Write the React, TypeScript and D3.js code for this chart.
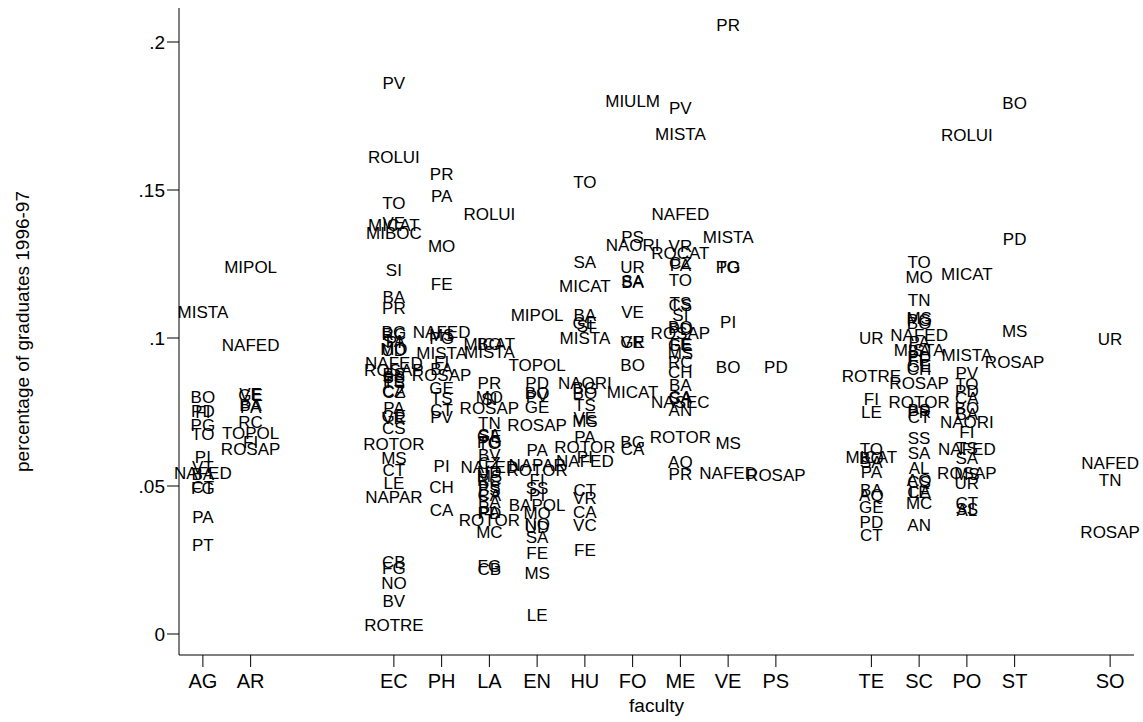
import React from "react";
import * as d3 from "d3";

// Faculty codes on the x axis (gaps separate the faculty groups)
const faculties = ["AG", "AR", "EC", "PH", "LA", "EN", "HU", "FO", "ME", "VE", "PS", "TE", "SC", "PO", "ST", "SO"];
const facultyCodes = [1, 2, 5, 6, 7, 8, 9, 10, 11, 12, 13, 15, 16, 17, 18, 20];

// Y axis ticks
const yTicks = [0, 0.05, 0.1, 0.15, 0.2];
const yTickLabels = ["0", ".05", ".1", ".15", ".2"];

// Percentage of graduates 1996-97, per university, within each faculty
const AG: [string, number][] = [
  ["MISTA", 0.1087], ["BO", 0.0802], ["PD", 0.0753], ["FI", 0.0749], ["PG", 0.0705],
  ["TO", 0.0675], ["PI", 0.0599], ["VT", 0.0565], ["NAFED", 0.0543], ["BA", 0.0540],
  ["CT", 0.0496], ["FG", 0.0493], ["PA", 0.0396], ["PT", 0.0301],
];
const AR: [string, number][] = [
  ["MIPOL", 0.1241], ["NAFED", 0.0976], ["VE", 0.0812], ["GE", 0.0807], ["PA", 0.0768],
  ["BA", 0.0772], ["RC", 0.0717], ["TOPOL", 0.0678], ["FI", 0.065], ["ROSAP", 0.0624],
];
const EC: [string, number][] = [
  ["PV", 0.186], ["ROLUI", 0.161], ["TO", 0.1457], ["VE", 0.1388], ["MICAT", 0.1382],
  ["MIBOC", 0.1356], ["SI", 0.123], ["BA", 0.1138], ["PR", 0.11], ["BG", 0.102],
  ["RC", 0.1012], ["SA", 0.099], ["PI", 0.0988], ["MO", 0.0962], ["UD", 0.0958],
  ["NAFED", 0.0914], ["ROSAP", 0.0892], ["BS", 0.0878], ["SS", 0.0868], ["FE", 0.0858],
  ["TS", 0.085], ["CA", 0.082], ["CZ", 0.0818], ["PA", 0.0762], ["GE", 0.0735],
  ["VR", 0.0728], ["CS", 0.0695], ["ROTOR", 0.0642], ["MS", 0.0594], ["CT", 0.0554],
  ["LE", 0.0509], ["NAPAR", 0.0464], ["CB", 0.0244], ["FG", 0.0222], ["NO", 0.0171],
  ["BV", 0.0113], ["ROTRE", 0.003],
];
const PH: [string, number][] = [
  ["PR", 0.1553], ["PA", 0.148], ["MO", 0.1311], ["FE", 0.1182], ["NAFED", 0.1021],
  ["MS", 0.101], ["PG", 0.1], ["MISTA", 0.0948], ["FI", 0.092], ["BA", 0.0895],
  ["ROSAP", 0.0875], ["GE", 0.083], ["TS", 0.0796], ["CT", 0.0755], ["PV", 0.0732],
  ["PI", 0.0569], ["CH", 0.0498], ["CA", 0.0419],
];
const LA: [string, number][] = [
  ["ROLUI", 0.1419], ["MICAT", 0.0978], ["BO", 0.098], ["MISTA", 0.0954], ["PR", 0.0847],
  ["MO", 0.0802], ["SI", 0.0795], ["ROSAP", 0.0762], ["TN", 0.0712], ["SA", 0.0672],
  ["GE", 0.0668], ["PG", 0.065], ["TO", 0.0645], ["BV", 0.0605], ["CZ", 0.0578],
  ["NAFED", 0.0565], ["UD", 0.0548], ["MS", 0.0532], ["RC", 0.052], ["PS", 0.0495],
  ["BS", 0.0488], ["CA", 0.047], ["BA", 0.0445], ["PA", 0.0412], ["PD", 0.0408],
  ["ROTOR", 0.0385], ["MC", 0.0344], ["FG", 0.0228], ["CB", 0.022],
];
const EN: [string, number][] = [
  ["MIPOL", 0.1078], ["TOPOL", 0.0909], ["PD", 0.0847], ["BO", 0.0815], ["PV", 0.0805],
  ["GE", 0.0766], ["ROSAP", 0.0706], ["PA", 0.0622], ["NAPAR", 0.0571], ["ROTOR", 0.0553],
  ["FI", 0.052], ["SS", 0.0492], ["PI", 0.047], ["BAPOL", 0.0436], ["MO", 0.0408],
  ["NO", 0.0372], ["UD", 0.0362], ["SA", 0.0329], ["FE", 0.0273], ["MS", 0.0205],
  ["LE", 0.0064],
];
const HU: [string, number][] = [
  ["TO", 0.1528], ["SA", 0.1258], ["MICAT", 0.1177], ["BA", 0.1078], ["GE", 0.105],
  ["SI", 0.104], ["MISTA", 0.0999], ["NAORI", 0.0847], ["BG", 0.083], ["BO", 0.0813],
  ["TS", 0.0774], ["VE", 0.0728], ["MS", 0.072], ["PA", 0.0667], ["ROTOR", 0.0633],
  ["PI", 0.0598], ["NAFED", 0.0585], ["CT", 0.0486], ["VR", 0.0458], ["CA", 0.0413],
  ["VC", 0.0368], ["FE", 0.0284],
];
const FO: [string, number][] = [
  ["MIULM", 0.1802], ["PS", 0.134], ["NAORI", 0.1314], ["UR", 0.1241], ["SA", 0.1193],
  ["BA", 0.119], ["VE", 0.1089], ["VR", 0.0988], ["GE", 0.0985], ["BO", 0.0909],
  ["MICAT", 0.0818], ["BG", 0.065], ["CA", 0.0624],
];
const ME: [string, number][] = [
  ["PV", 0.1776], ["MISTA", 0.1689], ["NAFED", 0.1419], ["VR", 0.1312], ["ROCAT", 0.1288],
  ["CZ", 0.1252], ["PA", 0.1247], ["TO", 0.1196], ["TS", 0.1117], ["CS", 0.1112],
  ["SI", 0.1078], ["BO", 0.1038], ["PD", 0.103], ["ROSAP", 0.1016], ["FE", 0.098],
  ["GE", 0.0976], ["MS", 0.0948], ["RC", 0.092], ["CH", 0.0886], ["BA", 0.0841],
  ["CA", 0.0802], ["SA", 0.0798], ["NASEC", 0.0782], ["AN", 0.0755], ["ROTOR", 0.0667],
  ["AQ", 0.0582], ["PR", 0.0541],
];
const VE: [string, number][] = [
  ["PR", 0.2057], ["MISTA", 0.134], ["TO", 0.1241], ["PG", 0.1241], ["PI", 0.1055],
  ["BO", 0.0903], ["MS", 0.0644], ["NAFED", 0.0543],
];
const PS: [string, number][] = [["PD", 0.0903], ["ROSAP", 0.0537]];
const TE: [string, number][] = [
  ["UR", 0.0999], ["ROTRE", 0.0872], ["FI", 0.0794], ["LE", 0.0751], ["TO", 0.0625],
  ["MICAT", 0.0599], ["BO", 0.0595], ["SA", 0.0582], ["PA", 0.0548], ["BA", 0.0486],
  ["AQ", 0.047], ["GE", 0.0428], ["PD", 0.0379], ["CT", 0.0334],
];
const SC: [string, number][] = [
  ["TO", 0.1258], ["MO", 0.1207], ["TN", 0.1128], ["MS", 0.1066], ["PG", 0.106],
  ["BO", 0.1052], ["NAFED", 0.101], ["PA", 0.0988], ["MISTA", 0.0959], ["BA", 0.0955],
  ["PD", 0.0935], ["FE", 0.0925], ["GE", 0.0905], ["CH", 0.0895], ["ROSAP", 0.0849],
  ["ROTOR", 0.0783], ["BS", 0.0755], ["PR", 0.075], ["CT", 0.0732], ["SS", 0.0663],
  ["SA", 0.0613], ["AL", 0.056], ["AQ", 0.052], ["CS", 0.0515], ["CA", 0.0481],
  ["LE", 0.0478], ["MC", 0.0442], ["AN", 0.0368],
];
const PO: [string, number][] = [
  ["ROLUI", 0.1686], ["MICAT", 0.1216], ["MISTA", 0.0943], ["PV", 0.0881], ["TO", 0.0845],
  ["PD", 0.0822], ["CA", 0.0796], ["BO", 0.0762], ["BA", 0.0742], ["NAORI", 0.0717],
  ["FI", 0.0683], ["NAFED", 0.0624], ["TS", 0.0628], ["SA", 0.0594], ["ROSAP", 0.0543],
  ["MS", 0.054], ["UR", 0.0509], ["CT", 0.0442], ["SS", 0.0422], ["AL", 0.0418],
];
const ST: [string, number][] = [["BO", 0.1793], ["PD", 0.1333], ["MS", 0.1025], ["ROSAP", 0.092]];
const SO: [string, number][] = [["UR", 0.0996], ["NAFED", 0.0577], ["TN", 0.052], ["ROSAP", 0.0346]];

const byFaculty: Record<string, [string, number][]> = {
  AG, AR, EC, PH, LA, EN, HU, FO, ME, VE, PS, TE, SC, PO, ST, SO,
};

const W = 1143;
const H = 722;
const plotLeft = 179;
const plotRight = 1134;
const plotTop = 8;
const plotBottom = 655;
const FONT = "'Liberation Sans', Arial, Helvetica, sans-serif";

export default function App() {
  const x = d3.scaleLinear().domain([0.5, 20.5]).range([plotLeft, plotRight]);
  const y = d3.scaleLinear().domain([0, 0.2]).range([634, 42]);

  const points = faculties.flatMap((f, i) =>
    byFaculty[f].map(([lab, v]) => ({ f, code: facultyCodes[i], lab, v }))
  );

  return (
    <svg
      width={W}
      height={H}
      style={{ position: "fixed", left: 0, top: 0, background: "#fff" }}
      fontFamily={FONT}
    >
      <rect x={0} y={0} width={W} height={H} fill="#fff" />
      {/* axes */}
      <line x1={plotLeft} x2={plotLeft} y1={plotTop} y2={plotBottom} stroke="#000" strokeWidth={1} />
      <line x1={plotLeft} x2={plotRight} y1={plotBottom} y2={plotBottom} stroke="#000" strokeWidth={1} />

      {/* y ticks */}
      {yTicks.map((t, i) => (
        <g key={"y" + i}>
          <line x1={plotLeft - 12} x2={plotLeft} y1={y(t)} y2={y(t)} stroke="#000" />
          <text x={plotLeft - 14} y={y(t)} dy="0.35em" textAnchor="end" fontSize={19}>
            {yTickLabels[i]}
          </text>
        </g>
      ))}

      {/* x ticks */}
      {faculties.map((f, i) => (
        <g key={"x" + f}>
          <line x1={x(facultyCodes[i])} x2={x(facultyCodes[i])} y1={plotBottom} y2={plotBottom + 12} stroke="#000" />
          <text x={x(facultyCodes[i])} y={681} dy="0.35em" textAnchor="middle" fontSize={20}>
            {f}
          </text>
        </g>
      ))}

      {/* axis titles */}
      <text x={(plotLeft + plotRight) / 2} y={705} dy="0.35em" textAnchor="middle" fontSize={19}>
        faculty
      </text>
      <text
        transform={`translate(22, ${(plotTop + plotBottom) / 2}) rotate(-90)`}
        dy="0.35em"
        textAnchor="middle"
        fontSize={19}
      >
        percentage of graduates 1996-97
      </text>

      {/* university labels used as markers */}
      {points.map((p, i) => (
        <text
          key={i}
          x={x(p.code)}
          y={y(p.v)}
          dy="0.35em"
          textAnchor="middle"
          fontSize={17}
          fill="#000"
        >
          {p.lab}
        </text>
      ))}
    </svg>
  );
}
